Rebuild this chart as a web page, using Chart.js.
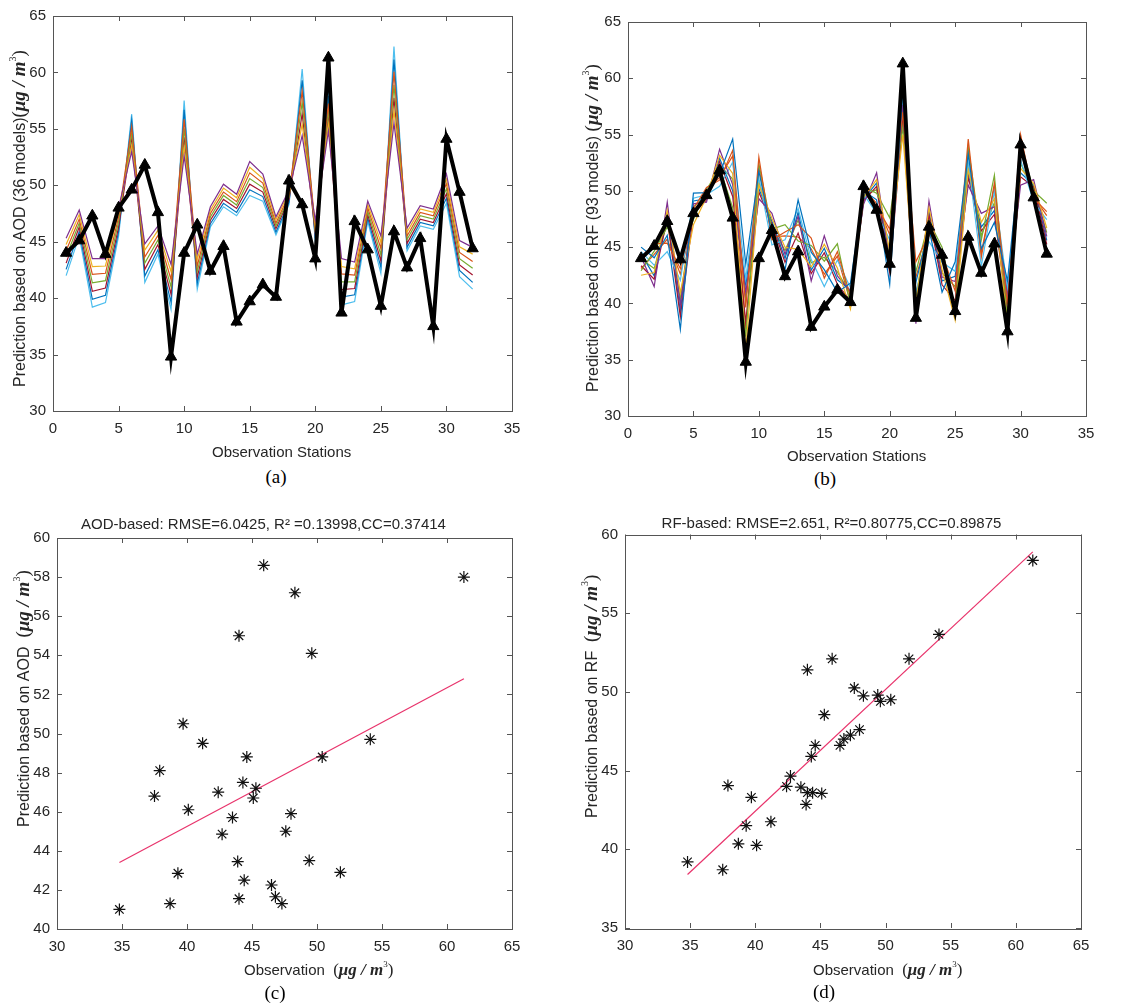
<!DOCTYPE html>
<html>
<head>
<meta charset="utf-8">
<script src="https://cdn.jsdelivr.net/npm/chart.js@4.4.1/dist/chart.umd.min.js"></script>
<style>
    body { margin: 0; background: #fff; width: 1141px; height: 1003px; position: relative; overflow: hidden; }
    canvas { position: absolute; }
    .lbl { position: absolute; font-family: "Liberation Serif", serif; font-size: 19px; line-height: 1; color: #000; transform: translateX(-50%); }
</style>
</head>
<body>
<canvas id="chartA" width="570" height="465" style="left:0;top:0"></canvas>
<canvas id="chartB" width="571" height="465" style="left:570px;top:0"></canvas>
<canvas id="chartC" width="570" height="490" style="left:0;top:495px"></canvas>
<canvas id="chartD" width="571" height="490" style="left:570px;top:495px"></canvas>
<div class="lbl" style="left:276px;top:467px">(a)</div>
<div class="lbl" style="left:825px;top:469px">(b)</div>
<div class="lbl" style="left:275px;top:983px">(c)</div>
<div class="lbl" style="left:824px;top:982px">(d)</div>
<script>
// stations and observed values
const stations = [1, 2, 3, 4, 5, 6, 7, 8, 9, 10, 11, 12, 13, 14, 15, 16, 17, 18, 19, 20, 21, 22, 23, 24, 25, 26, 27, 28, 29, 30, 31, 32];
const observed = [44.0, 45.1, 47.3, 43.9, 48.0, 49.6, 51.8, 47.6, 34.8, 44.0, 46.5, 42.4, 44.6, 37.9, 39.7, 41.2, 40.1, 50.4, 48.3, 43.5, 61.3, 38.7, 46.8, 44.3, 39.3, 45.9, 42.7, 45.3, 37.5, 54.1, 49.4, 44.4];

// AOD model predictions (a)
const aodPurple = [45.3, 47.8, 43.5, 43.5, 48.0, 53.0, 44.8, 46.4, 43.0, 52.6, 43.9, 48.1, 50.1, 49.2, 52.1, 51.0, 47.2, 49.6, 54.4, 46.9, 54.8, 43.5, 43.2, 48.6, 45.5, 55.5, 46.2, 48.2, 47.9, 51.0, 45.1, 44.5];
const aodYellow = [44.75, 47.4, 42.8, 42.85, 47.6, 53.55, 44.25, 46.0, 42.35, 53.4, 43.4, 47.8, 49.75, 48.9, 51.6, 50.6, 46.95, 49.4, 55.4, 46.6, 55.4, 42.8, 42.6, 48.3, 44.95, 56.65, 45.85, 47.9, 47.6, 50.55, 44.55, 43.9];
const aodOrange = [44.2, 47.0, 42.1, 42.2, 47.2, 55.2, 43.65, 45.55, 41.65, 55.85, 42.85, 47.5, 49.4, 48.55, 51.1, 50.2, 46.65, 49.15, 58.35, 46.25, 57.25, 42.15, 42.05, 48.0, 44.4, 60.05, 45.5, 47.6, 47.3, 50.15, 44.05, 43.25];
const aodGreen = [43.65, 46.65, 41.35, 41.55, 46.75, 54.65, 43.1, 45.15, 41.0, 55.05, 42.35, 47.2, 49.1, 48.25, 50.6, 49.8, 46.4, 48.95, 57.35, 45.95, 56.65, 41.45, 41.45, 47.7, 43.85, 58.9, 45.2, 47.3, 47.0, 49.7, 43.5, 42.65];
const aodMaroon = [43.1, 46.3, 40.6, 40.9, 46.3, 54.1, 42.55, 44.75, 40.35, 54.25, 41.85, 46.9, 48.75, 47.95, 50.1, 49.4, 46.15, 48.75, 56.35, 45.65, 56.05, 40.75, 40.85, 47.4, 43.3, 57.75, 44.85, 47.0, 46.7, 49.25, 42.95, 42.05];
const aodBlue = [42.55, 45.9, 39.9, 40.25, 45.9, 55.75, 41.95, 44.3, 39.65, 56.7, 41.3, 46.6, 48.4, 47.6, 49.6, 49.0, 45.85, 48.5, 59.3, 45.3, 57.9, 40.1, 40.3, 47.1, 42.75, 61.15, 44.5, 46.7, 46.4, 48.85, 42.45, 41.4];
const aodCyan = [42.0, 45.5, 39.2, 39.6, 45.5, 56.3, 41.4, 43.9, 39.0, 57.5, 40.8, 46.3, 48.1, 47.3, 49.1, 48.6, 45.6, 48.3, 60.3, 45.0, 58.5, 39.4, 39.7, 46.8, 42.2, 62.3, 44.2, 46.4, 46.1, 48.4, 41.9, 40.8];

// RF model predictions (b)
const rfBlue = [45.0, 44.05, 46.05, 37.7, 49.8, 49.85, 51.5, 54.6, 43.5, 51.75, 46.15, 43.0, 49.2, 44.55, 43.0, 41.0, 41.8, 50.0, 49.2, 41.7, 59.0, 41.85, 46.7, 41.0, 43.7, 53.25, 44.85, 47.2, 42.0, 53.5, 49.65, 44.5];
const rfOrange = [43.75, 45.3, 45.35, 43.1, 48.4, 50.3, 50.95, 53.6, 39.65, 53.0, 45.65, 46.35, 47.0, 45.8, 42.25, 44.6, 40.65, 50.6, 48.6, 46.6, 57.0, 43.7, 46.1, 44.35, 41.1, 54.6, 44.1, 50.7, 39.9, 55.0, 49.35, 48.15];
const rfYellow = [42.5, 42.75, 48.25, 40.95, 47.0, 49.45, 53.15, 51.55, 35.8, 50.55, 47.55, 45.0, 44.8, 43.25, 45.25, 43.15, 39.5, 49.4, 51.0, 44.65, 55.0, 40.05, 48.5, 43.0, 38.5, 51.85, 47.2, 49.3, 37.8, 52.0, 50.65, 46.7];
const rfPurple = [44.15, 41.5, 49.0, 39.85, 48.85, 49.0, 53.7, 50.55, 40.95, 49.3, 48.0, 44.35, 47.75, 42.0, 46.0, 42.45, 41.05, 48.8, 51.6, 43.65, 57.65, 38.2, 49.1, 42.35, 41.95, 50.5, 48.0, 48.6, 40.6, 50.5, 51.0, 45.95];
const rfGreen = [42.9, 44.65, 46.8, 44.2, 47.45, 50.1, 52.05, 48.5, 37.05, 52.4, 46.6, 47.0, 45.55, 45.15, 43.75, 45.3, 39.9, 50.3, 49.8, 47.6, 55.65, 42.8, 47.3, 45.0, 39.35, 53.9, 45.65, 51.4, 38.5, 54.25, 50.0, 48.9];
const rfCyan = [44.6, 43.4, 44.6, 42.05, 49.35, 49.65, 50.4, 52.55, 42.2, 51.15, 45.2, 45.65, 48.45, 43.9, 41.5, 43.85, 41.4, 49.7, 48.0, 45.65, 58.35, 40.95, 45.5, 43.65, 42.85, 52.55, 43.3, 50.0, 41.3, 52.75, 49.0, 47.45];
const rfMaroon = [43.35, 42.15, 47.55, 38.8, 47.95, 49.2, 52.6, 49.5, 38.35, 49.9, 47.05, 43.65, 46.25, 42.65, 44.5, 41.7, 40.25, 49.1, 50.4, 42.7, 56.35, 39.1, 47.9, 41.65, 40.25, 51.2, 46.45, 47.9, 39.2, 51.25, 50.35, 45.25];
const rfBlue2 = [44.4, 42.45, 47.9, 39.3, 49.1, 49.3, 52.9, 50.0, 41.6, 50.2, 47.3, 44.0, 48.1, 42.95, 44.9, 42.1, 41.2, 49.25, 50.7, 43.2, 58.0, 39.6, 48.2, 42.0, 42.4, 51.5, 46.8, 48.25, 40.95, 51.6, 50.5, 45.6];
const rfOrange2 = [43.1, 44.35, 45.7, 42.6, 47.7, 50.0, 51.2, 53.1, 37.7, 52.1, 45.9, 46.0, 45.9, 44.85, 42.6, 44.2, 40.1, 50.15, 48.9, 46.1, 56.0, 42.3, 46.4, 44.0, 39.8, 53.6, 44.5, 50.35, 38.85, 53.9, 49.5, 47.8];
const rfGreen2 = [43.95, 43.1, 47.2, 40.4, 48.6, 49.55, 52.3, 51.05, 40.3, 50.85, 46.8, 44.7, 47.4, 43.6, 44.1, 42.8, 40.85, 49.55, 50.1, 44.15, 57.3, 40.5, 47.6, 42.7, 41.5, 52.2, 46.05, 48.95, 40.25, 52.4, 50.2, 46.3];

// scatter (c): observation vs AOD-based prediction
const cObs = [45.9, 61.3, 48.3, 44.0, 49.6, 39.7, 41.2, 54.1, 44.6, 50.4, 37.9, 44.3, 42.4, 45.3, 37.5, 45.1, 40.1, 48.0, 43.5, 42.7, 47.6, 43.9, 49.4, 51.8, 39.3, 44.4, 46.5, 44.0, 46.8, 47.3, 38.7, 34.8];
const cPred = [58.6, 58.0, 57.2, 55.0, 54.1, 50.5, 49.5, 49.7, 48.8, 48.8, 48.1, 47.5, 47.0, 47.2, 46.8, 46.7, 46.1, 45.9, 45.7, 44.85, 45.0, 43.45, 43.5, 42.9, 42.85, 42.5, 42.25, 41.55, 41.65, 41.3, 41.3, 41.0];
const cFitX = [34.8, 61.3];
const cFitY = [43.4, 52.8];

// scatter (d): observation vs RF-based prediction
const dObs = [61.3, 54.1, 45.9, 51.8, 44.0, 47.6, 48.3, 49.4, 49.6, 50.4, 45.3, 48.0, 47.3, 46.8, 44.6, 46.5, 44.3, 42.7, 42.4, 43.5, 44.0, 44.4, 45.1, 43.9, 37.9, 39.7, 41.2, 39.3, 38.7, 40.1, 34.8, 37.5];
const dPred = [58.35, 53.65, 52.1, 52.1, 51.4, 50.25, 49.75, 49.8, 49.4, 49.5, 48.55, 47.6, 47.25, 47.0, 46.6, 46.6, 45.9, 44.65, 44.0, 43.95, 43.6, 43.6, 43.55, 42.85, 44.05, 43.3, 41.75, 41.5, 40.35, 40.25, 39.2, 38.7];
const dFitX = [34.8, 61.3];
const dFitY = [38.4, 58.9];

// tick values
const stationTicks = [0, 5, 10, 15, 20, 25, 30, 35];
const predTicks = [30, 35, 40, 45, 50, 55, 60, 65];
const obsTicks = [30, 35, 40, 45, 50, 55, 60, 65];
const cTicksY = [40, 42, 44, 46, 48, 50, 52, 54, 56, 58, 60];
const dTicksY = [35, 40, 45, 50, 55, 60];

const matlabColors = {
    blue: '#0072BD', orange: '#D95319', yellow: '#EDB120', purple: '#7E2F8E',
    green: '#77AC30', cyan: '#4DBEEE', maroon: '#A2142F'
};
const textColor = '#262626';
const fitColor = '#e8336b';
const sans = '"Liberation Sans", Arial, sans-serif';
const serif = '"Liberation Serif", "Times New Roman", serif';

Chart.defaults.font.family = sans;
Chart.defaults.font.size = 15;
Chart.defaults.color = textColor;

// box around the plot with inward tick marks on all four sides
const boxTicks = {
    id: 'boxTicks',
    afterDraw(chart) {
        const { ctx, chartArea: a } = chart;
        const x = chart.scales.x;
        const y = chart.scales.y;
        ctx.save();
        ctx.strokeStyle = '#555555';
        ctx.lineWidth = 1;
        ctx.beginPath();
        x.ticks.forEach(t => {
            const px = Math.round(x.getPixelForValue(t.value)) + 0.5;
            ctx.moveTo(px, a.bottom); ctx.lineTo(px, a.bottom - 5);
            ctx.moveTo(px, a.top); ctx.lineTo(px, a.top + 5);
        });
        y.ticks.forEach(t => {
            const py = Math.round(y.getPixelForValue(t.value)) + 0.5;
            ctx.moveTo(a.left, py); ctx.lineTo(a.left + 5, py);
            ctx.moveTo(a.right, py); ctx.lineTo(a.right - 5, py);
        });
        ctx.stroke();
        ctx.strokeRect(Math.round(a.left) + 0.5, Math.round(a.top) + 0.5,
            Math.round(a.right - a.left), Math.round(a.bottom - a.top));
        ctx.restore();
    }
};

// axis titles with mixed fonts (sans text + serif unit with superscript)
function unitParts(size) {
    return [
        { text: '(', font: `${size}px ${serif}` },
        { text: '\u03bcg / m', font: `italic bold ${size}px ${serif}` },
        { text: '3', font: `${Math.round(size * 0.55)}px ${serif}`, rise: size * 0.45 },
        { text: ')', font: `${size}px ${serif}` }
    ];
}

function drawRich(ctx, parts, x0, y0, vertical) {
    ctx.save();
    ctx.translate(x0, y0);
    if (vertical) ctx.rotate(-Math.PI / 2);
    ctx.fillStyle = textColor;
    ctx.textBaseline = 'alphabetic';
    ctx.textAlign = 'left';
    let x = 0;
    parts.forEach(p => {
        ctx.font = p.font;
        ctx.fillText(p.text, x, p.rise ? -p.rise : 0);
        x += ctx.measureText(p.text).width;
    });
    ctx.restore();
}

const richTitles = {
    id: 'richTitles',
    afterDraw(chart, args, opts) {
        const { ctx, chartArea: a } = chart;
        drawRich(ctx, opts.x, a.left + opts.xStart, a.bottom + opts.xBase, false);
        drawRich(ctx, opts.y, a.left - opts.yBase, a.bottom - opts.yStart, true);
    }
};

function makeScales(o) {
    return {
        x: {
            type: 'linear', min: o.xMin, max: o.xMax,
            afterBuildTicks: s => { s.ticks = o.xTicks.map(v => ({ value: v })); },
            afterFit: s => { s.height = o.xH; },
            grid: { display: false, drawTicks: false },
            border: { display: false },
            ticks: { padding: 9, maxRotation: 0, autoSkip: false }
        },
        y: {
            type: 'linear', min: o.yMin, max: o.yMax,
            afterBuildTicks: s => { s.ticks = o.yTicks.map(v => ({ value: v })); },
            afterFit: s => { s.width = o.yW; },
            grid: { display: false, drawTicks: false },
            border: { display: false },
            ticks: { padding: 7, autoSkip: false }
        }
    };
}

function titleOptions(o) {
    return {
        x: o.xTitle, y: o.yTitle,
        xStart: o.xStart, xBase: o.xBase, yStart: o.yStart, yBase: o.yBase
    };
}

function toPoints(xs, ys) {
    return xs.map((v, i) => ({ x: v, y: ys[i] }));
}

function lineChart(id, models, o) {
    const datasets = [{
        data: toPoints(stations, observed),
        borderColor: '#000', backgroundColor: '#000', borderWidth: 4,
        pointStyle: 'triangle', pointRadius: 6.5, pointBorderWidth: 1,
        order: 0
    }];
    models.forEach(m => {
        datasets.push({
            data: toPoints(stations, m.values),
            borderColor: m.color, borderWidth: 1.2, pointRadius: 0, order: 1
        });
    });
    new Chart(document.getElementById(id), {
        type: 'line',
        data: { datasets },
        options: {
            responsive: false, animation: false,
            layout: { padding: o.padding },
            scales: makeScales(o),
            plugins: {
                legend: { display: false }, tooltip: { enabled: false },
                richTitles: titleOptions(o)
            }
        },
        plugins: [boxTicks, richTitles]
    });
}

function scatterChart(id, xs, ys, fitX, fitY, o) {
    new Chart(document.getElementById(id), {
        type: 'scatter',
        data: {
            datasets: [{
                data: toPoints(xs, ys),
                pointStyle: 'star', pointRadius: 6, borderColor: '#111', borderWidth: 1.2
            }, {
                data: toPoints(fitX, fitY),
                showLine: true, pointRadius: 0, borderColor: fitColor, borderWidth: 1.2
            }]
        },
        options: {
            responsive: false, animation: false,
            layout: { padding: o.padding },
            scales: makeScales(o),
            plugins: {
                legend: { display: false }, tooltip: { enabled: false },
                title: {
                    display: true, text: o.title, color: textColor,
                    font: { size: 15, weight: 'normal' }, padding: o.titlePad
                },
                richTitles: titleOptions(o)
            }
        },
        plugins: [boxTicks, richTitles]
    });
}

const stationsTitle = [{ text: 'Observation Stations', font: `15px ${sans}` }];
const obsTitle = [{ text: 'Observation  ', font: `15px ${sans}` }].concat(unitParts(17));

lineChart('chartA', [
    { values: aodPurple, color: matlabColors.purple },
    { values: aodYellow, color: matlabColors.yellow },
    { values: aodOrange, color: matlabColors.orange },
    { values: aodGreen, color: matlabColors.green },
    { values: aodMaroon, color: matlabColors.maroon },
    { values: aodBlue, color: matlabColors.blue },
    { values: aodCyan, color: matlabColors.cyan }
], {
    xMin: 0, xMax: 35, xTicks: stationTicks, yMin: 30, yMax: 65, yTicks: predTicks,
    xTitle: stationsTitle,
    yTitle: [{ text: 'Prediction based on AOD (36 models)', font: `16px ${sans}` }].concat(unitParts(19)),
    xStart: 159, xBase: 46, yStart: 24, yBase: 28,
    padding: { left: 0, right: 58, top: 16, bottom: 0 }, yW: 53, xH: 54
});

lineChart('chartB', [
    { values: rfBlue, color: matlabColors.blue },
    { values: rfOrange, color: matlabColors.orange },
    { values: rfYellow, color: matlabColors.yellow },
    { values: rfPurple, color: matlabColors.purple },
    { values: rfGreen, color: matlabColors.green },
    { values: rfCyan, color: matlabColors.cyan },
    { values: rfMaroon, color: matlabColors.maroon },
    { values: rfBlue2, color: matlabColors.blue },
    { values: rfOrange2, color: matlabColors.orange },
    { values: rfGreen2, color: matlabColors.green }
], {
    xMin: 0, xMax: 35, xTicks: stationTicks, yMin: 30, yMax: 65, yTicks: predTicks,
    xTitle: stationsTitle,
    yTitle: [{ text: 'Prediction based on RF (93 models) ', font: `16px ${sans}` }].concat(unitParts(19)),
    xStart: 159, xBase: 45, yStart: 24, yBase: 30,
    padding: { left: 0, right: 55, top: 22, bottom: 0 }, yW: 58, xH: 49
});

scatterChart('chartC', cObs, cPred, cFitX, cFitY, {
    xMin: 30, xMax: 65, xTicks: obsTicks, yMin: 40, yMax: 60, yTicks: cTicksY,
    title: 'AOD-based: RMSE=6.0425, R\u00b2 =0.13998,CC=0.37414',
    titlePad: { top: 21, bottom: 4 },
    xTitle: obsTitle,
    yTitle: [{ text: 'Prediction based on AOD  ', font: `16px ${sans}` }].concat(unitParts(19)),
    xStart: 187, xBase: 46, yStart: 102, yBase: 28,
    padding: { left: 15, right: 58, top: 0, bottom: 0 }, yW: 42, xH: 56
});

scatterChart('chartD', dObs, dPred, dFitX, dFitY, {
    xMin: 30, xMax: 65, xTicks: obsTicks, yMin: 35, yMax: 60, yTicks: dTicksY,
    title: 'RF-based: RMSE=2.651, R\u00b2=0.80775,CC=0.89875',
    titlePad: { top: 19.5, bottom: 2 },
    xTitle: obsTitle,
    yTitle: [{ text: 'Prediction based on RF  ', font: `16px ${sans}` }].concat(unitParts(19)),
    xStart: 188, xBase: 47, yStart: 110, yBase: 28,
    padding: { left: 12, right: 60, top: 0, bottom: 0 }, yW: 43, xH: 57
});
</script>
</body>
</html>
